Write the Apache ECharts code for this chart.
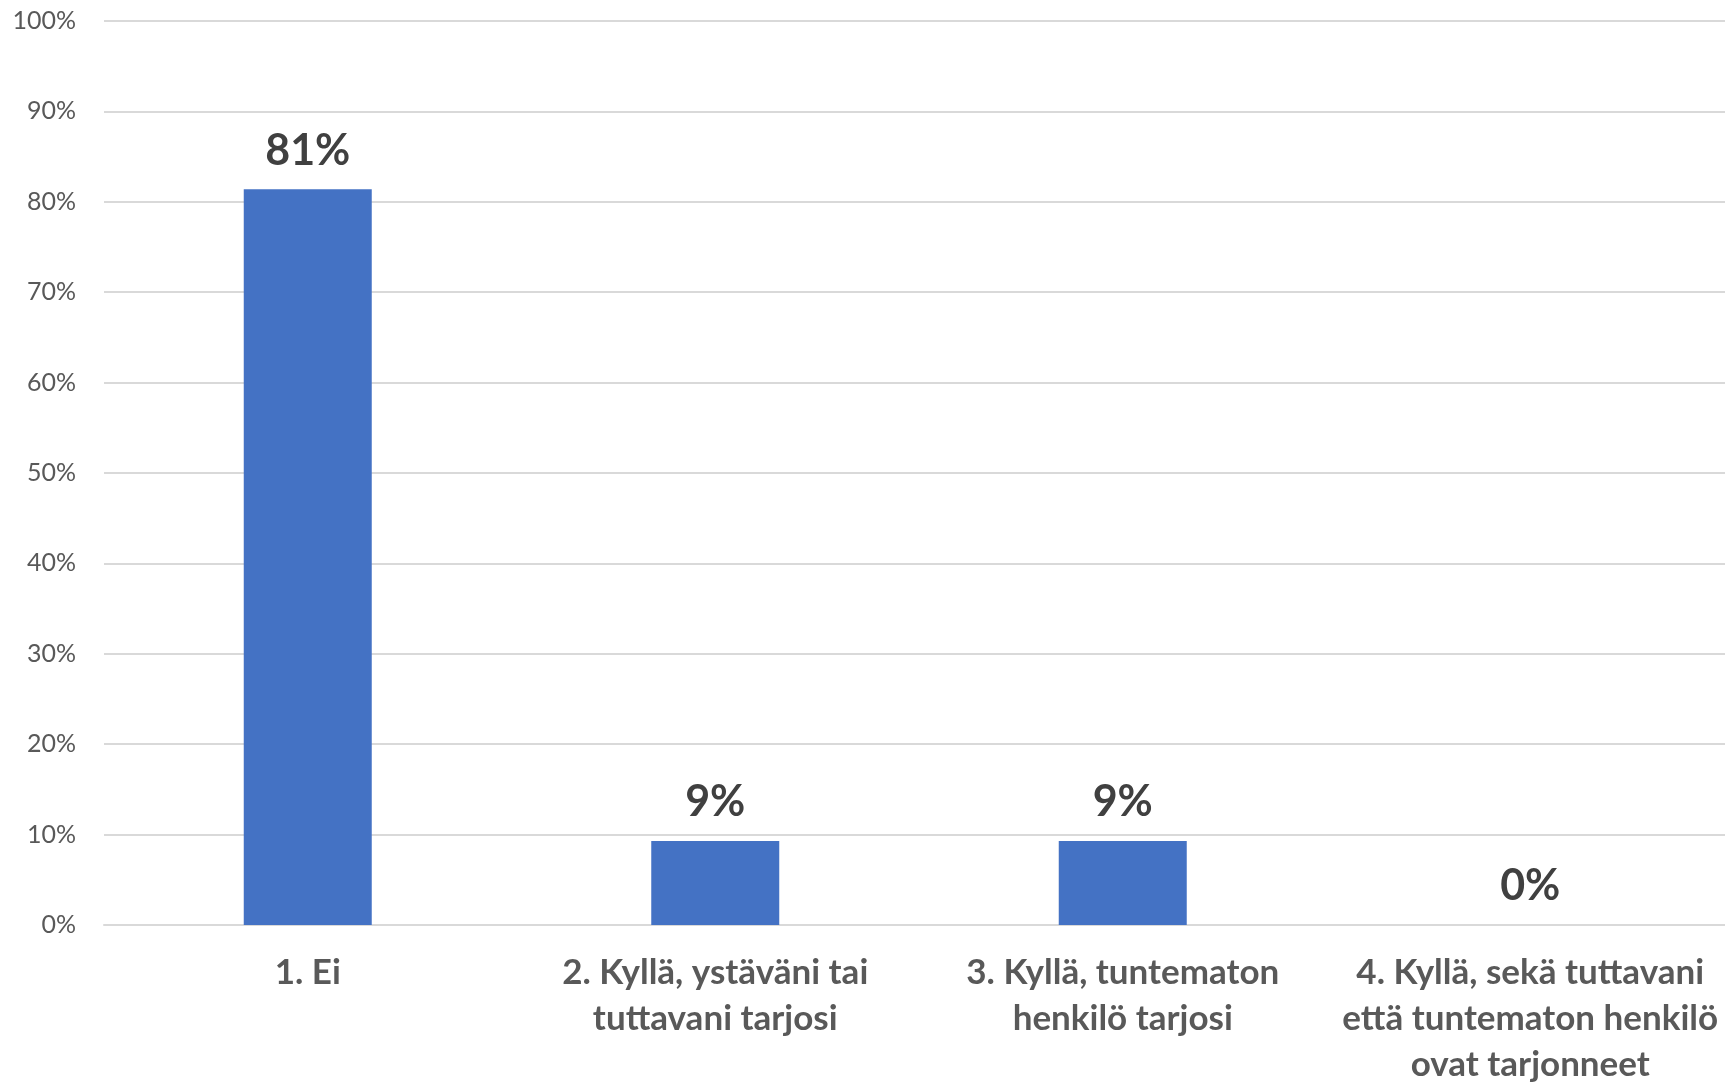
<!DOCTYPE html>
<html>
<head>
<meta charset="utf-8">
<script src="https://cdn.jsdelivr.net/npm/echarts@6/dist/echarts.min.js"></script>
<style>
  html, body { margin: 0; padding: 0; background: #fff; }
  #chart { width: 1725px; height: 1082px; }
</style>
</head>
<body>
<div id="chart"></div>
<script>
// vastausvaihtoehdot (rivinvaihdot kuten kuvassa)
const categories = [
  '1. Ei',
  '2. Kyllä, ystäväni tai\ntuttavani tarjosi',
  '3. Kyllä, tuntematon\nhenkilö tarjosi',
  '4. Kyllä, sekä tuttavani\nettä tuntematon henkilö\novat tarjonneet',
]
// osuudet prosentteina
const shares = [81.4, 9.3, 9.3, 0]
const yTicks = [0, 10, 20, 30, 40, 50, 60, 70, 80, 90, 100]

const font = 'Lato, "Open Sans", sans-serif'

const options = {
  animation: false,
  grid: {
    left: 104,
    right: -9,
    top: 21,
    bottom: 157,
    containLabel: false,
    outerBoundsMode: 'none',
  },
  xAxis: {
    type: 'category',
    data: categories,
    axisLine: { show: true, lineStyle: { color: '#d9d9d9', width: 2 } },
    axisTick: { show: false },
    axisLabel: {
      color: '#595959',
      fontFamily: font,
      fontWeight: 'bold',
      fontSize: 35,
      lineHeight: 46,
      margin: 25,
      interval: 0,
      align: 'center',
    },
  },
  yAxis: {
    type: 'value',
    min: yTicks[0],
    max: yTicks[yTicks.length - 1],
    interval: 10,
    axisLine: { show: false },
    axisTick: { show: false },
    splitLine: { lineStyle: { color: '#d9d9d9', width: 2 } },
    axisLabel: {
      color: '#595959',
      fontFamily: font,
      fontSize: 25,
      margin: 28,
      formatter: '{value}%',
    },
  },
  series: [
    {
      type: 'bar',
      data: shares,
      barWidth: 128,
      itemStyle: { color: '#4472c4' },
      label: {
        show: true,
        position: 'top',
        distance: 17,
        color: '#404040',
        fontFamily: font,
        fontWeight: 'bold',
        fontSize: 43,
        formatter: (p) => Math.round(p.value) + '%',
      },
    },
  ],
}

const chart = echarts.init(document.getElementById('chart'))
chart.setOption(options)
</script>
</body>
</html>
